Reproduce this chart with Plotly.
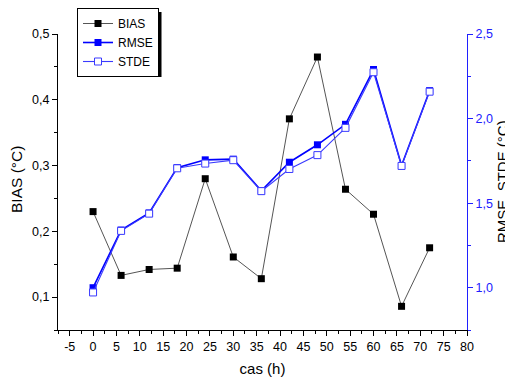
import plotly.graph_objects as go

hours = [0, 6, 12, 18, 24, 30, 36, 42, 48, 54, 60, 66, 72]
bias = [0.230, 0.133, 0.142, 0.144, 0.280, 0.161, 0.128, 0.371, 0.465, 0.264, 0.226, 0.086, 0.175]
rmse = [1.000, 1.341, 1.442, 1.710, 1.756, 1.760, 1.573, 1.742, 1.845, 1.966, 2.290, 1.722, 2.165]
stde = [0.972, 1.336, 1.438, 1.706, 1.734, 1.754, 1.571, 1.702, 1.784, 1.945, 2.274, 1.720, 2.159]
x_tickvals = [-5, 0, 5, 10, 15, 20, 25, 30, 35, 40, 45, 50, 55, 60, 65, 70, 75, 80]
x_ticktext = ["-5", "0", "5", "10", "15", "20", "25", "30", "35", "40", "45", "50", "55", "60", "65", "70", "75", "80"]

# the page body adds an 8 px offset; the figure is sized to fill the rest
OFF = 8
W, H = 513 - OFF, 383 - OFF
left, right, top, bottom = 58 - OFF, 467 - OFF, 34 - OFF, 330 - OFF

def fx(x):  # page px -> paper x
    return (x - OFF) / W

def fy(y):  # page px -> paper y
    return (H - (y - OFF)) / H

fig = go.Figure()
fig.add_trace(go.Scatter(
    x=hours, y=bias, name="BIAS", mode="lines+markers",
    line=dict(color="#555555", width=1),
    marker=dict(symbol="square", size=7, color="black"),
))
fig.add_trace(go.Scatter(
    x=hours, y=rmse, name="RMSE", mode="lines+markers", yaxis="y2",
    line=dict(color="#0000ff", width=1.6),
    marker=dict(symbol="square", size=7, color="#0000ff"),
))
fig.add_trace(go.Scatter(
    x=hours, y=stde, name="STDE", mode="lines+markers", yaxis="y2",
    line=dict(color="#3a3aff", width=1.1),
    marker=dict(symbol="square", size=7, color="white", line=dict(color="#3a3aff", width=1)),
))

font = "Liberation Sans, Arial, sans-serif"
blue = "#2020ff"

fig.update_layout(
    width=W, height=H,
    margin=dict(l=0, r=0, t=0, b=0, autoexpand=False),
    paper_bgcolor="white", plot_bgcolor="white",
    font=dict(family=font, size=12, color="black"),
    showlegend=True,
    legend=dict(
        x=fx(77), y=1.0, xanchor="left", yanchor="top",
        bgcolor="white", bordercolor="black", borderwidth=1,
        font=dict(size=12, family=font, color="black"),
        tracegroupgap=0, itemwidth=30,
    ),
    xaxis=dict(
        domain=[left / W, right / W],
        range=[-7.5, 80], tickvals=x_tickvals, ticktext=x_ticktext,
        showgrid=False, zeroline=False, automargin=False,
        showline=True, linecolor="black", linewidth=1.2,
        ticks="outside", ticklen=5, tickwidth=1, tickcolor="black",
        minor=dict(dtick=2.5, tick0=0, ticks="outside", ticklen=3, tickcolor="black"),
        title=dict(text="cas (h)", font=dict(size=15), standoff=10),
        tickfont=dict(size=12.5),
    ),
    yaxis=dict(
        domain=[(H - bottom) / H, (H - top) / H],
        range=[0.05, 0.5], dtick=0.1, tick0=0, tickformat=".1f",
        showgrid=False, zeroline=False, automargin=False,
        showline=True, linecolor="black", linewidth=1.2,
        ticks="outside", ticklen=5, tickwidth=1, tickcolor="black",
        minor=dict(dtick=0.05, tick0=0, ticks="outside", ticklen=3, tickcolor="black"),
        tickfont=dict(size=12.5),
    ),
    yaxis2=dict(
        range=[0.75, 2.5], dtick=0.5, tick0=0, tickformat=".1f",
        overlaying="y", side="right", anchor="x",
        showgrid=False, zeroline=False, automargin=False,
        showline=True, linecolor=blue, linewidth=1.2,
        ticks="outside", ticklen=5, tickwidth=1, tickcolor=blue,
        minor=dict(dtick=0.25, tick0=0, ticks="outside", ticklen=3, tickcolor=blue),
        tickfont=dict(size=12.5, color=blue),
    ),
    separators=", ",
    annotations=[
        dict(text="BIAS (°C)", textangle=-90, xref="paper", yref="paper",
             x=fx(16), y=fy(180), xanchor="center", yanchor="middle",
             showarrow=False, font=dict(size=15.5, color="black")),
        dict(text="RMSE, STDE (°C)", textangle=-90, xref="paper", yref="paper",
             x=fx(502), y=fy(182), xanchor="center", yanchor="middle",
             showarrow=False, font=dict(size=15, color="black")),
    ],
    shapes=[dict(
        type="rect", xref="paper", yref="paper",
        x0=fx(81), x1=fx(161.5), y0=fy(77), y1=fy(12),
        fillcolor="black", line=dict(width=0), layer="above",
    )],
)

fig.write_html("out.html")
